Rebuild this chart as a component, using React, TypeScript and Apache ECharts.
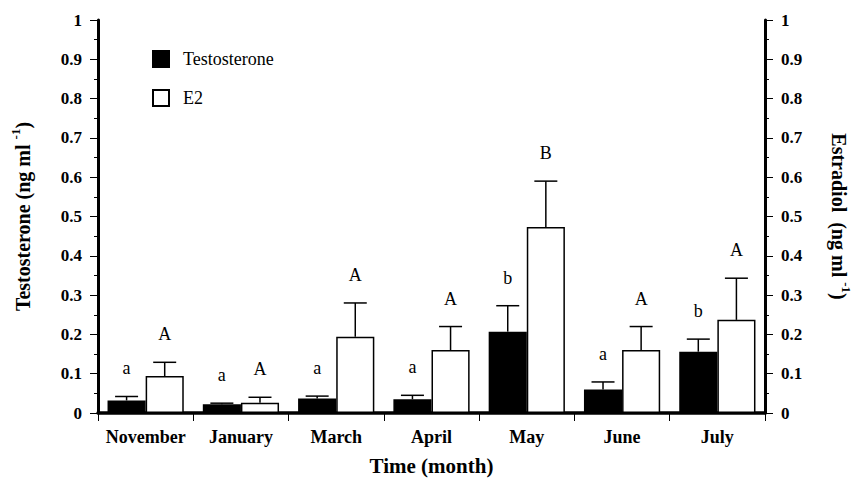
import React, { useEffect, useRef } from "react";
import * as echarts from "echarts";

const months = ["November", "January", "March", "April", "May", "June", "July"];
const testosterone = [0.032, 0.022, 0.037, 0.035, 0.207, 0.06, 0.156];
const testosteroneErr = [0.042, 0.025, 0.043, 0.045, 0.273, 0.079, 0.188];
const testosteroneLetters = ["a", "a", "a", "a", "b", "a", "b"];
const e2 = [0.094, 0.026, 0.194, 0.16, 0.473, 0.16, 0.237];
const e2Err = [0.129, 0.04, 0.28, 0.22, 0.59, 0.22, 0.343];
const e2Letters = ["A", "A", "A", "A", "B", "A", "A"];
const yTicks = [0, 0.1, 0.2, 0.3, 0.4, 0.5, 0.6, 0.7, 0.8, 0.9, 1];

const SERIF = '"Liberation Serif", "Times New Roman", serif';

function errorSeries(name: string, values: number[], errs: number[], letters: string[], side: number, yAxisIndex: number) {
  return {
    name: name + " err",
    type: "custom",
    yAxisIndex,
    z: 5,
    silent: true,
    data: values.map((v, i) => [i, v, errs[i]]),
    renderItem: (params: any, api: any) => {
      const ci = api.value(0);
      const v = api.value(1);
      const e = api.value(2);
      const bw = api.size([1, 0])[0];
      const base = api.coord([ci, v]);
      const top = api.coord([ci, e]);
      const x = base[0] + side * bw * 0.2;
      const half = 11.5;
      const ls = { stroke: "#000", lineWidth: 1.5 };
      return {
        type: "group",
        children: [
          { type: "line", shape: { x1: x, y1: base[1], x2: x, y2: top[1] }, style: ls },
          { type: "line", shape: { x1: x - half, y1: top[1], x2: x + half, y2: top[1] }, style: ls },
          {
            type: "text",
            x: x,
            y: top[1] - 28,
            style: {
              text: letters[params.dataIndex],
              fill: "#000",
              font: "18px " + SERIF,
              align: "center",
              verticalAlign: "middle",
              textAlign: "center",
              textVerticalAlign: "middle",
            },
          },
        ],
      };
    },
  };
}

export default function App() {
  const ref = useRef<HTMLDivElement>(null);
  useEffect(() => {
    document.body.style.margin = "0";
    if (!ref.current) return;
    const chart = echarts.init(ref.current, undefined, { renderer: "svg" });
    const yAxisCommon = {
      type: "value",
      min: yTicks[0],
      max: yTicks[yTicks.length - 1],
      interval: 0.1,
      splitLine: { show: false },
      axisLine: { show: true, lineStyle: { color: "#000", width: 3 } },
      axisTick: { show: true, length: 8, lineStyle: { color: "#000", width: 1 } },
      minorTick: { show: true, splitNumber: 2, length: 4, lineStyle: { color: "#000", width: 1 } },
      axisLabel: { color: "#000", fontFamily: SERIF, fontWeight: "bold", fontSize: 17, margin: 16 },
      nameLocation: "middle",
      nameTextStyle: {
        color: "#000",
        fontFamily: SERIF,
        fontWeight: "bold",
        fontSize: 20,
        rich: {
          a: { fontFamily: SERIF, fontWeight: "bold", fontSize: 20, lineHeight: 24, color: "#000", verticalAlign: "bottom" },
          s: { fontFamily: SERIF, fontWeight: "bold", fontSize: 13, lineHeight: 12, color: "#000", verticalAlign: "top" },
        },
      },
    };
    chart.setOption({
      animation: false,
      backgroundColor: "#fff",
      grid: { left: 98, right: 88, top: 20, bottom: 65, containLabel: false, outerBoundsMode: "none" },
      legend: {
        orient: "vertical",
        left: 152,
        top: 50,
        padding: 0,
        itemWidth: 16,
        itemHeight: 16,
        itemGap: 21,
        icon: "rect",
        data: ["Testosterone", "E2"],
        textStyle: { color: "#000", fontFamily: SERIF, fontSize: 18, padding: [0, 0, 0, 9] },
      },
      xAxis: {
        type: "category",
        data: months,
        name: "Time (month)",
        nameLocation: "middle",
        nameGap: 42,
        nameTextStyle: { color: "#000", fontFamily: SERIF, fontWeight: "bold", fontSize: 21 },
        axisLine: { show: true, lineStyle: { color: "#000", width: 3.5 } },
        axisTick: { show: true, length: 8, lineStyle: { color: "#000", width: 1 } },
        axisLabel: { color: "#000", fontFamily: SERIF, fontWeight: "bold", fontSize: 18, margin: 15, interval: 0, hideOverlap: false },
      },
      yAxis: [
        {
          ...yAxisCommon,
          position: "left",
          name: "{a|Testosterone (ng ml }{s|-1}{a|)}",
          nameGap: 65,
        },
        {
          ...yAxisCommon,
          position: "right",
          name: "{a|Estradiol  (ng ml }{s|-1}{a|)}",
          nameGap: 64,
          nameRotate: -90,
        },
      ],
      series: [
        {
          name: "Testosterone",
          type: "bar",
          yAxisIndex: 0,
          data: testosterone,
          barGap: "0%",
          barCategoryGap: "20%",
          itemStyle: { color: "#000", borderColor: "#000", borderWidth: 1.5 },
        },
        {
          name: "E2",
          type: "bar",
          yAxisIndex: 1,
          data: e2,
          barGap: "0%",
          barCategoryGap: "20%",
          itemStyle: { color: "#fff", borderColor: "#000", borderWidth: 1.5 },
        },
        errorSeries("Testosterone", testosterone, testosteroneErr, testosteroneLetters, -1, 0),
        errorSeries("E2", e2, e2Err, e2Letters, 1, 1),
      ],
    });
    return () => chart.dispose();
  }, []);
  return <div ref={ref} style={{ width: 853, height: 478 }} />;
}
